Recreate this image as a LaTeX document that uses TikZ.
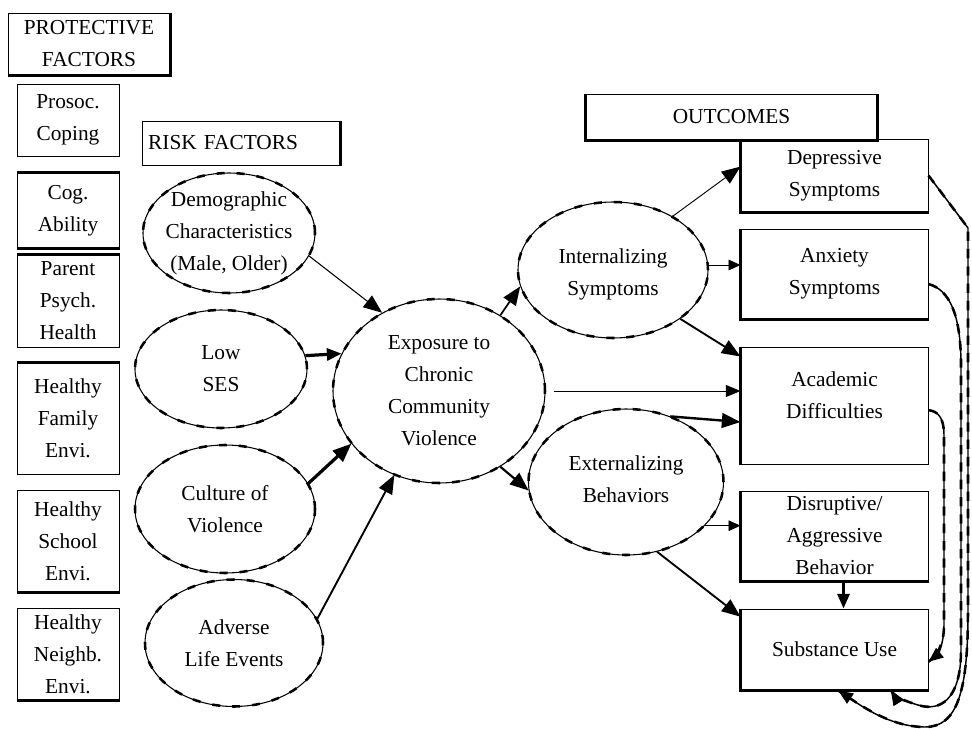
\documentclass[tikz,border=0pt]{standalone}
\usepackage{fontspec}
\setmainfont{Liberation Serif}
\usetikzlibrary{shapes.geometric,arrows.meta,calc}
\begin{document}
\begin{tikzpicture}[x=0.75pt,y=-0.75pt,
  txt/.style={align=center,inner sep=0pt,font=\fontsize{16}{24}\selectfont},
  box/.style={draw,line width=0.75pt,rectangle,inner sep=0pt,align=center,font=\fontsize{16}{24}\selectfont},
  thk/.style={line width=2.6pt},
  ell/.style={ellipse,draw,line width=0.8pt,inner sep=0pt,
    postaction={draw,line width=1.9pt,dash pattern=on 6pt off 9pt}},
  big/.style={-{Triangle[length=14pt,width=11pt]}},
  med/.style={-{Triangle[length=11pt,width=9pt]}},
  sml/.style={-{Triangle[length=9pt,width=8pt]}},
  rough/.style={line width=1.1pt,
    postaction={draw,-,line width=1.9pt,dash pattern=on 7pt off 6pt}}
]
\useasboundingbox (0,0) rectangle (972,729);

% ---------- protective factors ----------
\node[box,minimum width=121.5pt,minimum height=46.5pt] (prot) at (89,44) {PROTECTIVE\\FACTORS};
\node[box,minimum width=76.5pt,minimum height=54pt] (pros) at (68,120) {Prosoc.\\Coping};
\node[box,minimum width=76.5pt,minimum height=56.25pt] (cog) at (68,210.5) {Cog.\\Ability};
\node[box,minimum width=76.5pt,minimum height=69pt] (par) at (68,301) {Parent\\Psych.\\Health};
\node[box,minimum width=76.5pt,minimum height=83.25pt] (fam) at (68,418.5) {Healthy\\Family\\Envi.};
\node[box,minimum width=76.5pt,minimum height=76.5pt] (sch) at (68,541) {Healthy\\School\\Envi.};
\node[box,minimum width=76.5pt,minimum height=69pt] (nei) at (68,654) {Healthy\\Neighb.\\Envi.};

\draw[thk] (prot.north east) -- (prot.south east) -- (prot.south west);
\draw[thk] (cog.north west) -- (cog.north east);
\draw[thk] (cog.south west) -- (cog.south east);
\draw[thk] (par.north west) -- (par.north east);
\draw[thk] (fam.north west) -- (fam.north east);
\draw[thk] (sch.south west) -- (sch.south east);
\draw[thk] (nei.south west) -- (nei.south east);

% ---------- risk factors ----------
\node[box,minimum width=147.75pt,minimum height=33pt,text width=140pt,align=left,inner xsep=3.9pt] (risk) at (241.5,143) {RISK FACTORS};
\draw[thk] (risk.north east) -- (risk.south east);

\node[ell,minimum width=129pt,minimum height=90pt,
  label={[txt]center:{Demographic\\Characteristics\\(Male, Older)}}] (demo) at (229,233) {};
\node[ell,minimum width=129pt,minimum height=88.5pt,
  label={[txt]center:{Low\\SES}}] (lses) at (221,369) {};
\node[ell,minimum width=135pt,minimum height=96pt,
  label={[txt]center:{Culture of\\Violence}}] (cult) at (225,509) {};
\node[ell,minimum width=133.5pt,minimum height=95.25pt,
  label={[txt]center:{Adverse\\Life Events}}] (adv) at (234,643) {};

% ---------- central ----------
\node[ell,minimum width=159pt,minimum height=138pt,
  label={[txt]center:{Exposure to\\Chronic\\Community\\Violence}}] (expo) at (439,391) {};
\node[ell,minimum width=142.5pt,minimum height=102pt,
  label={[txt,yshift=-3pt]center:{Internalizing\\Symptoms}}] (int) at (613,270) {};
\node[ell,minimum width=146.25pt,minimum height=109.5pt,
  label={[txt,yshift=2pt]center:{Externalizing\\Behaviors}}] (ext) at (626,482) {};

% ---------- outcomes ----------
\node[box,minimum width=218.25pt,minimum height=34.5pt] (out) at (731.5,117) {OUTCOMES};
\draw[thk] (out.north west) -- (out.south west) -- (out.south east) -- (out.north east);
\node[box,minimum width=140.25pt,minimum height=54.75pt] (dep) at (834.5,175.5) {Depressive\\Symptoms};
\node[box,minimum width=140.25pt,minimum height=67.5pt] (anx) at (834.5,274) {Anxiety\\Symptoms};
\node[box,minimum width=140.25pt,minimum height=87.75pt,
  label={[txt,yshift=8pt]center:{Academic\\Difficulties}}] (acad) at (834.5,405.5) {};
\node[box,minimum width=140.25pt,minimum height=67.5pt] (dis) at (834.5,536) {Disruptive/\\Aggressive\\Behavior};
\node[box,minimum width=140.25pt,minimum height=60.75pt] (sub) at (834.5,649.5) {Substance Use};

\draw[thk] (dep.north west) -- (dep.south west) -- (dep.south east);
\draw[thk] (anx.north west) -- (anx.south west) -- (anx.south east);
\draw[thk] (acad.north west) -- (acad.south west);
\draw[thk] (dis.north west) -- (dis.south west) -- (dis.south east);
\draw[thk] (sub.north west) -- (sub.south west) -- (sub.south east);

% ---------- connectors: risk -> exposure ----------
\draw[big,line width=0.8pt] (demo.-16) -- (expo.126);
\draw[med,line width=2.4pt] (lses.9.5) -- (expo.159.7);
\draw[big,line width=2.4pt] (cult.17.6) -- (expo.211.6);
\draw[big,line width=1.4pt] (adv.16.6) -- (expo.242.7);

% ---------- exposure -> mediators / outcomes ----------
\draw[big,line width=1.3pt] (expo.51.7) -- (int.190.4);
\draw[med,line width=0.7pt,shorten <=6pt] (expo.east) -- (expo.east -| acad.west);
\draw[big,line width=1.6pt] (expo.-51.3) -- (ext.185);

% ---------- internalizing -> outcomes ----------
\draw[big,line width=0.7pt] (int.42.5) -- ($(dep.north west)!0.38!(dep.south west)$);
\draw[sml,line width=0.7pt] (int.3) -- (int.3 -| anx.west);
\draw[big,line width=1.4pt] (int.-36.7) -- ($(acad.north west)!0.085!(acad.south west)$);

% ---------- externalizing -> outcomes ----------
\draw[big,line width=1.8pt] (ext.56.7) -- ($(acad.north west)!0.64!(acad.south west)$);
\draw[sml,line width=0.7pt] (ext.-29) -- (ext.-29 -| dis.west);
\draw[big,line width=1.4pt] (ext.-66) -- ($(sub.north west)!0.1!(sub.south west)$);
\draw[med,line width=2.2pt] ([xshift=6.75pt]dis.south) -- ([xshift=6.75pt]sub.north);

% ---------- outcomes -> substance use (curves) ----------
\draw[rough,med] (dep.east) -- (968,228) -- (968,610)
  .. controls (968,690) and (958,727) .. (925,727)
  .. controls (890,727) and (860,705) .. ($(sub.south west)!0.52!(sub.south east)$);
\draw[rough,med] ($(anx.north east)!0.61!(anx.south east)$)
  .. controls (950,290) and (960,315) .. (961,360) -- (961,650)
  .. controls (961,700) and (940,712) .. (918,705)
  .. controls (905,701) and (895,697) .. ($(sub.south west)!0.8!(sub.south east)$);
\draw[rough,med] ($(acad.north east)!0.54!(acad.south east)$)
  .. controls (938,411) and (944,418) .. (944,435) -- (944,625)
  .. controls (944,645) and (937,655) .. ($(sub.north east)!0.65!(sub.south east)$);
\end{tikzpicture}
\end{document}
